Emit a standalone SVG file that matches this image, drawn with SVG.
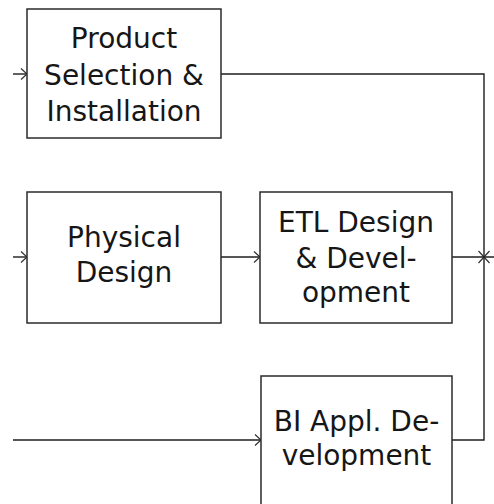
<svg xmlns="http://www.w3.org/2000/svg" width="494" height="504" viewBox="0 0 494 504">
  <style>
    .box { fill: #ffffff; stroke: #2b2b2b; stroke-width: 1.5; }
    .lbl { font-family: "DejaVu Sans", "Liberation Sans", sans-serif; font-size: 28px; fill: #161616; text-anchor: middle; }
    .wire { fill: none; stroke: #1e1e1e; stroke-width: 1.4; }
  </style>
  <defs>
    <marker id="chev" viewBox="-8 -7 10 14" markerWidth="10" markerHeight="14" refX="0" refY="0" orient="auto" markerUnits="userSpaceOnUse">
      <path d="M-6,-5.5 L0,0 L-6,5.5" fill="none" stroke="#333" stroke-width="1.2"/>
    </marker>
  </defs>

  <!-- connectors -->
  <g id="connectors">
    <path class="wire" d="M13,74 H27" marker-end="url(#chev)"/>
    <path class="wire" d="M13,257 H27" marker-end="url(#chev)"/>
    <path class="wire" d="M221,257 H260" marker-end="url(#chev)"/>
    <path class="wire" d="M13,440 H261" marker-end="url(#chev)"/>
    <path class="wire" d="M221,74 H484 V257" marker-end="url(#chev)"/>
    <path class="wire" d="M452,440 H484 V257" marker-end="url(#chev)"/>
    <path class="wire" d="M452,257 H500"/>
  </g>

  <!-- nodes -->
  <g id="product-selection">
    <rect class="box" x="27" y="9" width="194" height="129"/>
    <text class="lbl" x="124" y="48">Product</text>
    <text class="lbl" x="124" y="84.5">Selection &amp;</text>
    <text class="lbl" x="124" y="121">Installation</text>
  </g>

  <g id="physical-design">
    <rect class="box" x="27" y="192" width="194" height="131"/>
    <text class="lbl" x="124" y="247">Physical</text>
    <text class="lbl" x="124" y="282">Design</text>
  </g>

  <g id="etl-design">
    <rect class="box" x="260" y="192" width="192" height="131"/>
    <text class="lbl" x="356" y="232">ETL Design</text>
    <text class="lbl" x="356" y="268">&amp; Devel-</text>
    <text class="lbl" x="356" y="302">opment</text>
  </g>

  <g id="bi-application">
    <rect class="box" x="261" y="376" width="191" height="140"/>
    <text class="lbl" x="356.5" y="431">BI Appl. De-</text>
    <text class="lbl" x="356.5" y="465">velopment</text>
  </g>
</svg>
